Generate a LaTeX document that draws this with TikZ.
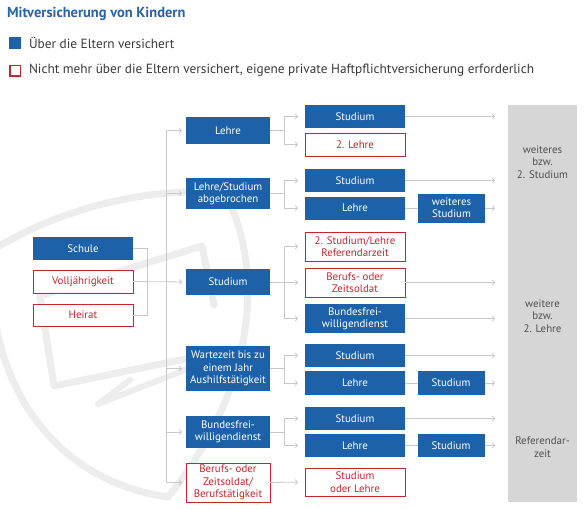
\documentclass[tikz,border=0pt]{standalone}
\usepackage{fontspec}
\setmainfont{PT Sans}
\usetikzlibrary{arrows.meta,calc}
\definecolor{hblue}{HTML}{1D62A8}
\definecolor{hred}{HTML}{C4262E}
\definecolor{lgray}{HTML}{C9C9C9}
\definecolor{colgray}{HTML}{D6D6D6}
\definecolor{wm}{HTML}{EDEDED}
\definecolor{ttl}{HTML}{2A64A4}
\definecolor{gtext}{HTML}{505050}
\definecolor{ltext}{HTML}{3A3A3A}
\begin{document}
\begin{tikzpicture}[x=1pt,y=-1pt,
  every node/.style={inner sep=0pt,outer sep=0pt},
  boxfont/.style={font=\fontsize{10.9}{12.4}\selectfont},
  bbox/.style={boxfont,fill=hblue,text=white,align=center},
  rbox/.style={boxfont,draw=hred,line width=0.9pt,fill=white,text=hred,align=center},
  wA/.style={minimum width=100pt},
  wB/.style={minimum width=84pt},
  wC/.style={minimum width=67pt},
  conn/.style={draw=lgray,line width=0.8pt,-{Straight Barb[length=2.2pt,width=5pt,line width=0.8pt]}},
  plain/.style={draw=lgray,line width=0.8pt},
  coltext/.style={font=\fontsize{10.9}{12.5}\selectfont,text=gtext,align=center}
]
\useasboundingbox (0,0) rectangle (588,509);
\fill[white] (0,0) rectangle (588,509);

% watermark shield
\begin{scope}
\clip (0,0) rectangle (588,509);
\draw[wm,line width=7pt,line cap=round,line join=round]
  (-20,258) .. controls (60,205) and (150,188) .. (224,192)
  .. controls (262,260) and (262,380) .. (168,497);
\draw[wm,line width=7pt,line cap=round]
  (-8,300) .. controls (5,420) and (80,485) .. (168,497);
\draw[wm,line width=7pt,line cap=round,line join=round]
  (40,296) -- (202,246) -- (214,305);
\draw[wm,line width=7pt,line cap=round,line join=round]
  (40,296) -- (54,386) -- (190,358);
\draw[wm,line width=6pt,line cap=round,line join=round]
  (190,368) -- (98,404) -- (130,380);
\end{scope}

% title and legend
\node[anchor=west,text=ttl,font=\fontsize{14.5}{16}\selectfont\bfseries] (title) at (7,14) {Mitversicherung von Kindern};
\node[fill=hblue,minimum width=12pt,minimum height=12pt] (legb) at (15,43) {};
\node[anchor=west,text=ltext,font=\fontsize{13.3}{15}\selectfont] (legbt) at (29,43) {Über die Eltern versichert};
\node[draw=hred,line width=1.5pt,fill=white,minimum width=10.5pt,minimum height=10.5pt] (legr) at (15,70.5) {};
\node[anchor=west,text=ltext,font=\fontsize{13.3}{15}\selectfont] (legrt) at (29,70.5) {Nicht mehr über die Eltern versichert, eigene private Haftpflichtversicherung erforderlich};

% gray column
\node[fill=colgray,minimum width=69pt,minimum height=397pt] (gray) at (542.5,303.5) {};
\node[coltext] (g1) at (542.5,162) {weiteres\\bzw.\\2. Studium};
\node[coltext] (g2) at (542.5,316) {weitere\\bzw.\\2. Lehre};
\node[coltext] (g3) at (542.5,447) {Referendar-\\zeit};

% left column
\node[bbox,wA,minimum height=23pt] (schule) at (83,248.5) {Schule};
\node[rbox,wA,minimum height=23pt] (voll) at (83,281.5) {Volljährigkeit};
\node[rbox,wA,minimum height=22pt] (heirat) at (83,315) {Heirat};

% level 1
\node[bbox,wB,minimum height=27pt] (la) at (228,130.5) {Lehre};
\node[bbox,wB,minimum height=31pt] (lb) at (228,193.5) {Lehre/Studium\\abgebrochen};
\node[bbox,wB,minimum height=26pt] (lc) at (228,282) {Studium};
\node[bbox,wB,minimum height=45pt] (ld) at (228,368.5) {Wartezeit bis zu\\einem Jahr\\Aushilfstätigkeit};
\node[bbox,wB,minimum height=32pt] (le) at (228,432) {Bundesfrei-\\willigendienst};
\node[rbox,wB,minimum height=39pt] (lf) at (228,482.5) {Berufs- oder\\Zeitsoldat/\\Berufstätigkeit};

% level 2
\node[bbox,wA,minimum height=23pt] (a1) at (355,116.5) {Studium};
\node[rbox,wA,minimum height=23pt] (a2) at (355,144.5) {2. Lehre};
\node[bbox,wA,minimum height=23pt] (b1) at (355,180.5) {Studium};
\node[bbox,wA,minimum height=23pt] (b2) at (355,208) {Lehre};
\node[rbox,wA,minimum height=29pt] (c1) at (355,246.5) {2. Studium/Lehre\\Referendarzeit};
\node[rbox,wA,minimum height=29pt] (c2) at (355,282.5) {Berufs- oder\\Zeitsoldat};
\node[bbox,wA,minimum height=29pt] (c3) at (355,318.5) {Bundesfrei-\\willigendienst};
\node[bbox,wA,minimum height=23pt] (d1) at (355,355.5) {Studium};
\node[bbox,wA,minimum height=24pt] (d2) at (355,383) {Lehre};
\node[bbox,wA,minimum height=23pt] (e1) at (355,418.5) {Studium};
\node[bbox,wA,minimum height=23pt] (e2) at (355,445.5) {Lehre};
\node[rbox,wA,minimum height=28pt] (f1) at (355,482) {Studium\\oder Lehre};

% level 3
\node[bbox,wC,minimum height=29pt] (b3) at (451.5,208) {weiteres\\Studium};
\node[bbox,wC,minimum height=24pt] (d3) at (451,383) {Studium};
\node[bbox,wC,minimum height=23pt] (e3) at (451,445.5) {Studium};

% left bracket and trunk
\coordinate (trunk) at (166,0);
\draw[plain] (schule.east) -- ++(14,0) |- (heirat.east);
\draw[conn,shorten >=4pt] (voll.east) -- (lc.west);
\draw[plain] (trunk |- la.west) -- (trunk |- lf.west);
\foreach \n in {la,lb,ld,le,lf}
  \draw[conn,shorten >=4pt] (trunk |- \n.west) -- (\n.west);

% level 1 -> level 2
\foreach \s/\t in {la/a1,la/a2,lb/b1,lb/b2,lc/c1,lc/c2,lc/c3,ld/d1,ld/d2,le/e1,le/e2}
  \draw[conn,shorten >=7pt] (\s.east) -- ++(14,0) |- (\t.west);
\draw[conn,shorten >=7pt] (lf.east) -- (f1.west);

% level 2 -> level 3
\draw[plain] (b2.east) -- (b3.west);
\draw[plain] (d2.east) -- (d3.west);
\draw[plain] (e2.east) -- (e3.west);

% into gray column
\foreach \n in {a1,b1,b3,c2,c3,d1,d3,e1,e3}
  \draw[conn,shorten >=13pt] (\n.east) -- (\n.east -| gray.west);
\end{tikzpicture}
\end{document}
